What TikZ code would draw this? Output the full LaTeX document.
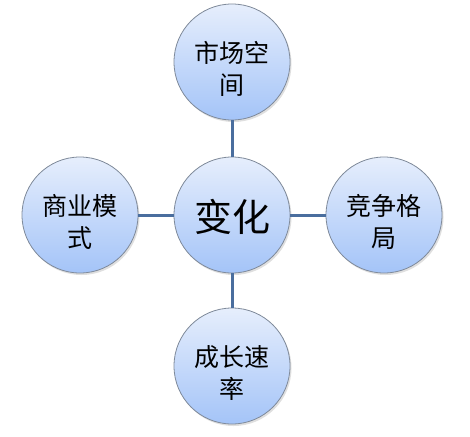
\documentclass[tikz,border=0pt]{standalone}
\usepackage{fontspec}
\newfontfamily\cjk{Noto Sans CJK SC}
\usetikzlibrary{shadows}
\definecolor{topc}{HTML}{E6EEFC}
\definecolor{botc}{HTML}{A4C4F8}
\definecolor{edgec}{HTML}{7F8A9A}
\definecolor{linkc}{HTML}{4A6E9E}
\tikzset{
  bubble/.style={circle, minimum size=116pt, inner sep=0pt, draw=edgec, line width=0.8pt,
    top color=topc, bottom color=botc,
    drop shadow={shadow xshift=1.5pt, shadow yshift=-2pt, opacity=0.25}},
  bubbletext/.style={align=center, inner sep=0pt, font=\cjk\fontsize{25}{32}\selectfont},
  hubtext/.style={inner sep=0pt, font=\cjk\fontsize{38}{40}\selectfont},
  link/.style={draw=linkc, line width=3pt}
}
\begin{document}
\begin{tikzpicture}[x=1pt,y=-1pt]
\useasboundingbox (0,0) rectangle (470,436);
\fill[white] (0,0) rectangle (470,436);
\node[bubble] (hub) at (232,215) {};
\node[bubble] (top) at (232,62) {};
\node[bubble] (left) at (80,215) {};
\node[bubble] (right) at (384,215) {};
\node[bubble] (bottom) at (232,366) {};
\draw[link] (top) -- (hub);
\draw[link] (hub) -- (bottom);
\draw[link] (left) -- (hub);
\draw[link] (hub) -- (right);
\node[hubtext] (hubt) at ([yshift=-2pt]hub.center) {变化};
\node[bubbletext] (topt) at ([yshift=-7pt]top.center) {市场空\\间};
\node[bubbletext] (leftt) at ([yshift=-7pt]left.center) {商业模\\式};
\node[bubbletext] (rightt) at ([yshift=-7pt]right.center) {竞争格\\局};
\node[bubbletext] (bottomt) at ([yshift=-7pt]bottom.center) {成长速\\率};
\end{tikzpicture}
\end{document}
